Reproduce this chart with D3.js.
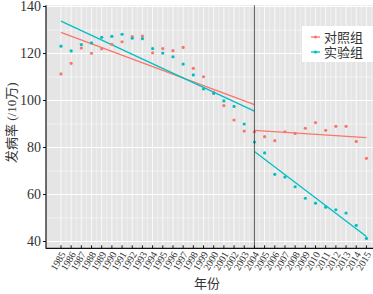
<!DOCTYPE html>
<html>
<head>
<meta charset="utf-8">
<script src="https://cdn.jsdelivr.net/npm/d3@7"></script>
<style>
  body { margin: 0; background: #fff; }
  svg { display: block; }
</style>
</head>
<body>
<div id="chart"></div>
<script>
// years 1985-2015
const years = d3.range(1985, 2016);
const control = [111.3, 115.8, 122.3, 120.1, 122.0, 123.9, 125.0, 127.2, 127.4, 120.3,
  122.1, 121.2, 122.6, 113.7, 110.1, 103.5, 97.8, 91.7, 87.0, 86.7,
  84.6, 82.9, 86.7, 86.0, 88.2, 90.6, 87.3, 89.0, 89.0, 82.6, 75.4];
const treated = [123.1, 121.1, 123.8, 124.5, 126.9, 127.3, 128.2, 126.5, 126.3, 122.1,
  120.2, 118.6, 115.5, 110.9, 104.9, 103.0, 99.8, 97.5, 90.0, 82.3,
  77.7, 68.6, 67.4, 63.3, 58.4, 56.3, 54.6, 53.5, 52.1, 46.9, 41.3];
const groupNames = ["对照组", "实验组"];
const colors = ["#F8766D", "#00BFC4"];
const yTicks = [40, 60, 80, 100, 120, 140];
const breakYear = 2004;

const width = 373, height = 294;
const panel = { left: 46, top: 5.3, bottom: 248.3, right: 382 };

const x = d3.scaleLinear().domain([1983.5, 2016.5]).range([45.7, 381.7]);
const y = d3.scaleLinear().domain([40, 140]).range([241.5, 6.5]);

const svg = d3.select("#chart").append("svg")
    .attr("width", width)
    .attr("height", height)
    .attr("font-family", "'Liberation Serif', 'Noto Sans CJK SC', serif");

// panel background
svg.append("rect")
    .attr("x", panel.left).attr("y", panel.top)
    .attr("width", panel.right - panel.left).attr("height", panel.bottom - panel.top)
    .attr("fill", "#e5e5e5");

// grid
const grid = svg.append("g").attr("stroke", "#fff");
grid.selectAll(".ymin").data(d3.range(50, 140, 20)).join("line")
    .attr("x1", panel.left).attr("x2", panel.right)
    .attr("y1", d => y(d)).attr("y2", d => y(d))
    .attr("stroke-width", 0.5);
grid.selectAll(".ymaj").data(yTicks).join("line")
    .attr("x1", panel.left).attr("x2", panel.right)
    .attr("y1", d => y(d)).attr("y2", d => y(d))
    .attr("stroke-width", 1);
grid.selectAll(".xmin").data(years.map(d => d + 0.5)).join("line")
    .attr("x1", d => x(d)).attr("x2", d => x(d))
    .attr("y1", panel.top).attr("y2", panel.bottom)
    .attr("stroke-width", 0.4);
grid.selectAll(".xmaj").data(years).join("line")
    .attr("x1", d => x(d)).attr("x2", d => x(d))
    .attr("y1", panel.top).attr("y2", panel.bottom)
    .attr("stroke-width", 0.8);

// linear fit on a segment
function fit(vals, from, to) {
  const pts = years.map((yr, i) => [yr, vals[i]]).filter(p => p[0] >= from && p[0] <= to);
  const mx = d3.mean(pts, p => p[0]), my = d3.mean(pts, p => p[1]);
  const b = d3.sum(pts, p => (p[0] - mx) * (p[1] - my)) / d3.sum(pts, p => (p[0] - mx) ** 2);
  const a = my - b * mx;
  return [[from, a + b * from], [to, a + b * to]];
}

const series = [control, treated];
const line = d3.line().x(d => x(d[0])).y(d => y(d[1]));

series.forEach((vals, k) => {
  [[1985, breakYear], [breakYear, 2015]].forEach(([a, b]) => {
    svg.append("path")
        .attr("d", line(fit(vals, a, b)))
        .attr("fill", "none")
        .attr("stroke", colors[k])
        .attr("stroke-width", 1.3);
  });
});

series.forEach((vals, k) => {
  svg.append("g").selectAll("circle").data(vals).join("circle")
      .attr("cx", (d, i) => x(years[i]))
      .attr("cy", d => y(d))
      .attr("r", 1.6)
      .attr("fill", colors[k]);
});

// break line
svg.append("line")
    .attr("x1", x(breakYear)).attr("x2", x(breakYear))
    .attr("y1", panel.top).attr("y2", panel.bottom)
    .attr("stroke", "#333").attr("stroke-width", 0.8);

// axes
svg.append("line")
    .attr("x1", panel.left).attr("x2", panel.left)
    .attr("y1", panel.top).attr("y2", panel.bottom + 0.5)
    .attr("stroke", "#111").attr("stroke-width", 1.2);
svg.append("line")
    .attr("x1", panel.left).attr("x2", panel.right)
    .attr("y1", panel.bottom).attr("y2", panel.bottom)
    .attr("stroke", "#111").attr("stroke-width", 1.2);

svg.append("g").selectAll("line").data(yTicks).join("line")
    .attr("x1", panel.left - 3).attr("x2", panel.left)
    .attr("y1", d => y(d)).attr("y2", d => y(d))
    .attr("stroke", "#111").attr("stroke-width", 1);
svg.append("g").selectAll("text").data(yTicks).join("text")
    .attr("x", panel.left - 5)
    .attr("y", d => y(d))
    .attr("dy", "0.35em")
    .attr("text-anchor", "end")
    .attr("font-size", 14)
    .attr("fill", "#333")
    .text(d => d);

svg.append("g").selectAll("line").data(years).join("line")
    .attr("x1", d => x(d)).attr("x2", d => x(d))
    .attr("y1", panel.bottom - 3).attr("y2", panel.bottom)
    .attr("stroke", "#111").attr("stroke-width", 1);
svg.append("g").selectAll("text").data(years).join("text")
    .attr("transform", d => `translate(${x(d) + 2},${panel.bottom + 4}) rotate(-60)`)
    .attr("text-anchor", "end")
    .attr("dy", "0.35em")
    .attr("font-size", 10)
    .attr("fill", "#333")
    .text(d => d);

// axis titles
svg.append("text")
    .attr("transform", `translate(16,${(panel.top + panel.bottom) / 2 - 4}) rotate(-90)`)
    .attr("text-anchor", "middle")
    .attr("font-size", 13)
    .attr("fill", "#333")
    .text("发病率 (/10万)");
svg.append("text")
    .attr("x", 207).attr("y", 288)
    .attr("text-anchor", "middle")
    .attr("font-size", 13)
    .attr("fill", "#333")
    .text("年份");

// legend
const legend = svg.append("g");
legend.append("rect")
    .attr("x", 302).attr("y", 26).attr("width", 80).attr("height", 36)
    .attr("fill", "#fff");
groupNames.forEach((name, k) => {
  const ly = 37 + k * 15;
  legend.append("line")
      .attr("x1", 311).attr("x2", 320).attr("y1", ly).attr("y2", ly)
      .attr("stroke", colors[k]).attr("stroke-width", 1.3);
  legend.append("circle")
      .attr("cx", 315.5).attr("cy", ly).attr("r", 1.6).attr("fill", colors[k]);
  legend.append("text")
      .attr("x", 324).attr("y", ly).attr("dy", "0.35em")
      .attr("font-size", 13).attr("fill", "#333")
      .text(name);
});
</script>
</body>
</html>
